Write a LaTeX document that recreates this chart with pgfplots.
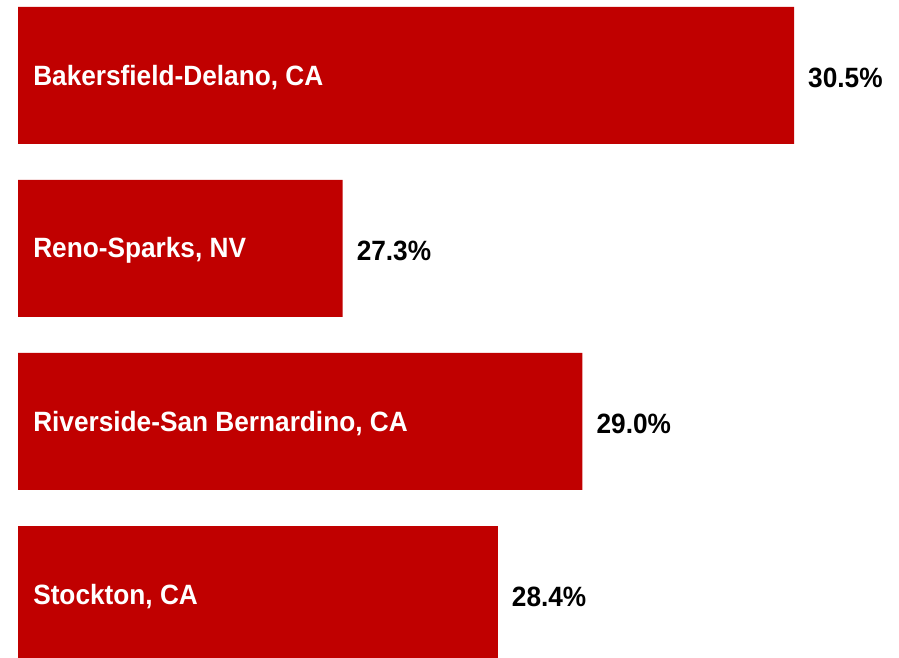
\documentclass[border=0pt]{standalone}
\usepackage{fontspec}
\setmainfont{Liberation Sans}[FakeStretch=0.94]
\usepackage{pgfplots}
\usepackage{pgfplotstable}
\pgfplotsset{compat=1.18}
\definecolor{barred}{HTML}{C00000}
\pgfplotstableread{
y val label
0 30.5 {Bakersfield-Delano, CA}
1 27.3 {Reno-Sparks, NV}
2 29.0 {Riverside-San Bernardino, CA}
3 28.4 {Stockton, CA}
}\datatable
\begin{document}
\begin{tikzpicture}
\begin{axis}[
  width=899pt, height=658pt, scale only axis,
  hide axis,
  xmin=-0.128, xmax=6.244,
  ymin=-0.436, ymax=3.367,
  y dir=reverse,
  clip=false,
  /pgf/number format/assume math mode=true,
]
\addplot[xbar, bar width=137pt, bar shift=0pt, fill=barred, draw=none,
  nodes near coords={\pgfmathprintnumber[fixed,fixed zerofill,precision=1,assume math mode=true]{\pgfplotspointmeta}\%},
  point meta=explicit,
  nodes near coords align={anchor=west},
  every node near coord/.append style={font=\fontsize{27.9}{32}\selectfont\bfseries, text=black, xshift=14pt, yshift=-2pt, inner sep=0pt, anchor=west},
] table[x expr=\thisrow{val}-25, y=y, meta=val] {\datatable};
\addplot[draw=none, mark=none,
  nodes near coords, point meta=explicit symbolic,
  every node near coord/.append style={font=\fontsize{27.9}{32}\selectfont\bfseries, text=white, anchor=west, xshift=15pt, yshift=-2pt, inner sep=0pt},
] table[x expr=0, y=y, meta=label] {\datatable};
\end{axis}
\pgfresetboundingbox
\path (current axis.south west) rectangle (current axis.north east);
\end{tikzpicture}
\end{document}
